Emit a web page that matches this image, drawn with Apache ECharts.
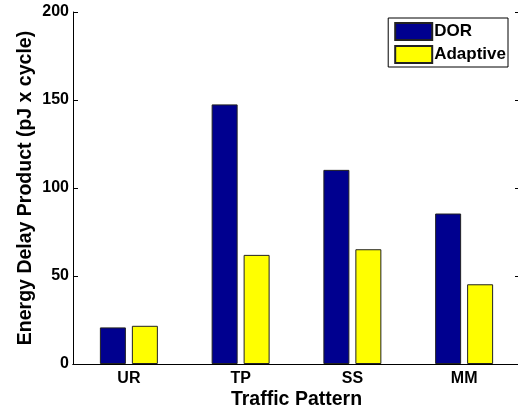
<!DOCTYPE html>
<html>
<head>
<meta charset="utf-8">
<script src="https://cdn.jsdelivr.net/npm/echarts@6/dist/echarts.min.js"></script>
<style>
html, body { margin: 0; padding: 0; background: #fff; }
#chart { width: 518px; height: 411px; }
</style>
</head>
<body>
<div id="chart"></div>
<script>
var categories = ['UR', 'TP', 'SS', 'MM'];
var dorValues = [20.8, 147.5, 110.3, 85.5];
var adaptiveValues = [21.7, 62, 65.2, 45.3];
var yTicks = [0, 50, 100, 150, 200];

var font = 'Liberation Sans, Arial, Helvetica, sans-serif';

function drawChart()
{
    var chart = echarts.init(document.getElementById('chart'));
    var lineStyle = {color: '#000', width: 1};
    var option = {
        animation: false,
        backgroundColor: '#fff',
        grid: {left: 73, top: 12, width: 447, height: 352, containLabel: false, outerBoundsMode: 'none'},
        legend: {
            orient: 'vertical',
            right: 10,
            top: 18,
            data: ['DOR', 'Adaptive'],
            backgroundColor: '#fff',
            borderColor: '#000',
            borderWidth: 1,
            borderRadius: 0,
            padding: [4, 2, 3, 6],
            itemGap: 4,
            itemWidth: 37,
            itemHeight: 17,
            icon: 'rect',
            textStyle: {fontFamily: font, fontWeight: 'bold', fontSize: 17, color: '#000', padding: [0, 0, 0, -3]}
        },
        xAxis: [{
            type: 'category',
            data: categories,
            name: 'Traffic Pattern',
            nameLocation: 'middle',
            nameGap: 26,
            nameMoveOverlap: false,
            nameTextStyle: {fontFamily: font, fontWeight: 'bold', fontSize: 19.5, color: '#000'},
            axisLine: {lineStyle: lineStyle},
            axisTick: {inside: true, alignWithLabel: true, length: 5, lineStyle: lineStyle},
            axisLabel: {fontFamily: font, fontWeight: 'bold', fontSize: 16, color: '#000', margin: 7},
            splitLine: {show: false}
        }, {
            type: 'category',
            data: categories,
            position: 'top',
            axisLine: {lineStyle: lineStyle},
            axisTick: {inside: true, alignWithLabel: true, length: 5, lineStyle: lineStyle},
            axisLabel: {show: false}
        }],
        yAxis: [{
            type: 'value',
            min: yTicks[0],
            max: yTicks[yTicks.length - 1],
            interval: 50,
            name: 'Energy Delay Product (pJ x cycle)',
            nameLocation: 'middle',
            nameGap: 37,
            nameMoveOverlap: false,
            nameTextStyle: {fontFamily: font, fontWeight: 'bold', fontSize: 19.5, color: '#000'},
            axisLine: {show: true, lineStyle: lineStyle},
            axisTick: {show: true, inside: true, length: 5, lineStyle: lineStyle},
            axisLabel: {fontFamily: font, fontWeight: 'bold', fontSize: 16, color: '#000', margin: 4},
            splitLine: {show: false}
        }, {
            type: 'value',
            position: 'right',
            min: yTicks[0],
            max: yTicks[yTicks.length - 1],
            interval: 50,
            axisLine: {show: true, lineStyle: lineStyle},
            axisTick: {show: true, inside: true, length: 5, lineStyle: lineStyle},
            axisLabel: {show: false},
            splitLine: {show: false}
        }],
        series: [{
            name: 'DOR',
            type: 'bar',
            data: dorValues,
            barWidth: 26,
            barGap: '23%',
            itemStyle: {color: '#00008f', borderColor: '#222', borderWidth: 1}
        }, {
            name: 'Adaptive',
            type: 'bar',
            data: adaptiveValues,
            barWidth: 26,
            barGap: '23%',
            itemStyle: {color: '#ffff00', borderColor: '#222', borderWidth: 1}
        }]
    };
    chart.setOption(option);
}

drawChart();
</script>
</body>
</html>
